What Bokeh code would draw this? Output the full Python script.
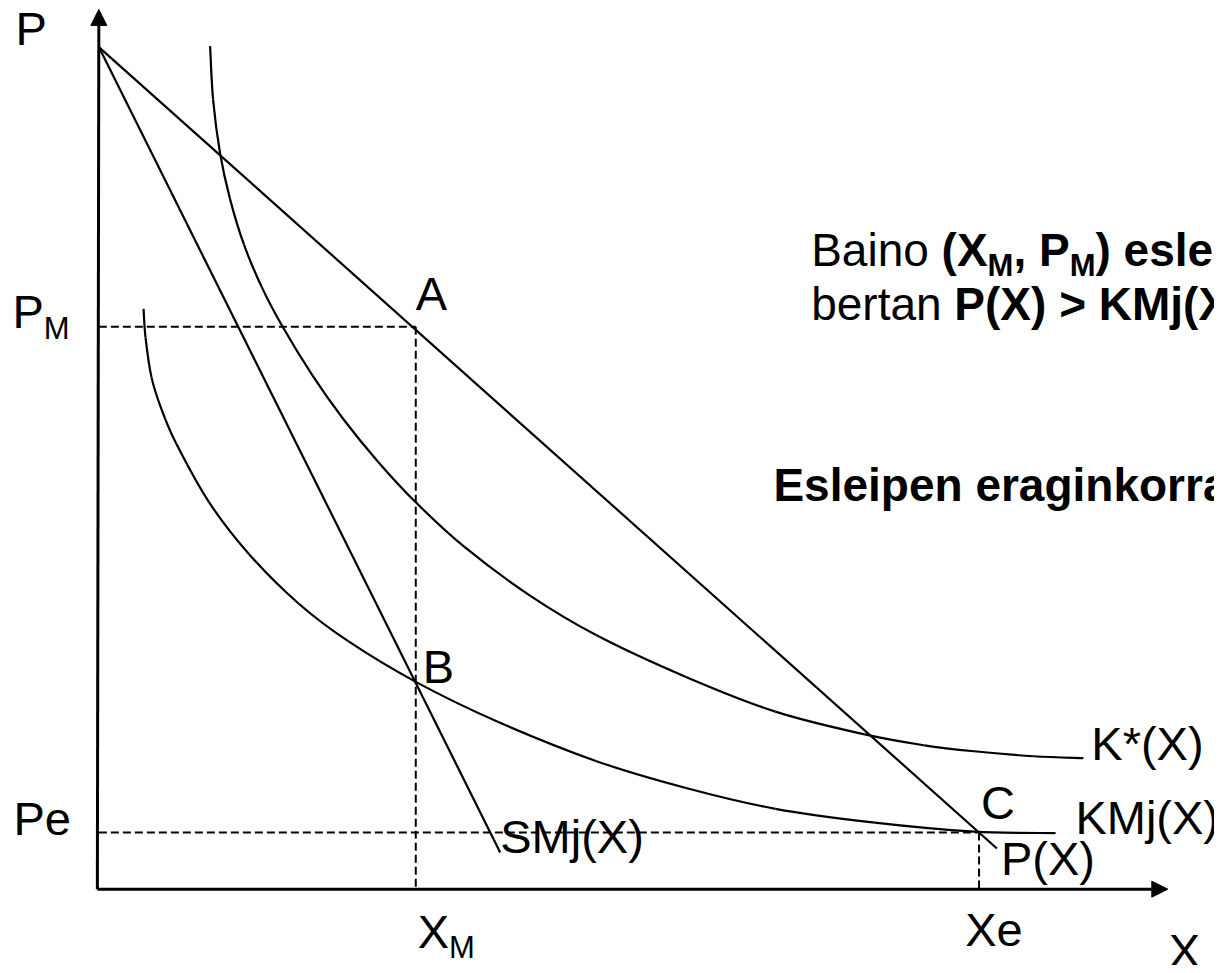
from bokeh.plotting import figure
from bokeh.models import Range1d, Arrow, NormalHead
from bokeh.embed import file_html
from bokeh.resources import INLINE
from bokeh.core.properties import value

# ---------------- data (chart units, origin at the axes corner) ----------------
X_M, P_M = 319, 567          # monopoly quantity / price (points A, B)
X_E, P_E = 886, 57           # efficient quantity / price (point C)

demand_x = [0, 904]          # P(X)
demand_y = [849, 41]
smj_x = [0, 404]             # SMj(X)
smj_y = [849, 37]

kstar_x = [112, 115, 122, 132, 146, 164, 185, 215, 246, 281, 319, 368, 434, 501, 591, 681, 771, 831, 881, 941, 991]
kstar_y = [850, 796, 742, 696, 650, 607, 567, 518, 474, 431, 390, 345, 296, 256, 214, 179, 156, 145, 139, 134, 132]

kmj_x = [45, 47, 53, 63, 78, 111, 151, 201, 251, 319, 401, 501, 591, 681, 781, 881, 963]
kmj_y = [585, 556, 516, 484, 449, 390, 338, 288, 250, 209, 169, 129, 102, 81, 67, 58, 56.5]

axis_x_end = 1076
axis_y_end = 887

# ---------------- figure ----------------
FONT = "Liberation Sans"
p = figure(width=1214, height=965, x_range=Range1d(-99, 1123), y_range=Range1d(-77, 896),
           output_backend="svg", toolbar_location=None, min_border=0,
           x_axis_type=None, y_axis_type=None)
p.grid.visible = False
p.outline_line_color = None
p.background_fill_color = "white"
p.border_fill_color = "white"

# axes with arrows
p.add_layout(Arrow(end=NormalHead(size=16, fill_color="black", line_color="black", line_width=1),
                   x_start=-1.5, y_start=0, x_end=0, y_end=axis_y_end, line_width=3, line_color="black"))
p.add_layout(Arrow(end=NormalHead(size=16, fill_color="black", line_color="black", line_width=1),
                   x_start=-1.5, y_start=0, x_end=axis_x_end, y_end=0, line_width=3, line_color="black"))

# dashed guides
dash = dict(line_color="black", line_width=2, line_dash="8 4")
p.line([0, X_M], [P_M, P_M], **dash)
p.line([X_M, X_M], [P_M, 0], **dash)
p.line([0, X_E], [P_E, P_E], **dash)
p.line([X_E, X_E], [P_E, 0], **dash)

# straight curves
cl = dict(line_color="black", line_width=2.2)
p.line(demand_x, demand_y, **cl)
p.line(smj_x, smj_y, **cl)


# smooth curves through the read points (Catmull-Rom rendered as cubic Bezier segments)
def smooth(xs, ys):
    n = len(xs)
    x0, y0, x1, y1, cx0, cy0, cx1, cy1 = [], [], [], [], [], [], [], []
    for i in range(n - 1):
        a = max(i - 1, 0)
        d = min(i + 2, n - 1)
        x0.append(xs[i]); y0.append(ys[i])
        x1.append(xs[i + 1]); y1.append(ys[i + 1])
        cx0.append(xs[i] + (xs[i + 1] - xs[a]) / 6.0)
        cy0.append(ys[i] + (ys[i + 1] - ys[a]) / 6.0)
        cx1.append(xs[i + 1] - (xs[d] - xs[i]) / 6.0)
        cy1.append(ys[i + 1] - (ys[d] - ys[i]) / 6.0)
    p.bezier(x0=x0, y0=y0, x1=x1, y1=y1, cx0=cx0, cy0=cy0, cx1=cx1, cy1=cy1, **cl)


smooth(kstar_x, kstar_y)
smooth(kmj_x, kmj_y)

# ---------------- text ----------------
REG = {' ': 278, '(': 333, ')': 333, ',': 278, '*': 389, '>': 584, 'A': 667, 'B': 667, 'C': 722,
       'E': 667, 'K': 667, 'M': 833, 'P': 667, 'S': 667, 'X': 667, 'a': 556, 'b': 556, 'd': 556,
       'e': 556, 'g': 556, 'i': 222, 'j': 222, 'k': 500, 'l': 222, 'n': 556, 'o': 556, 'p': 556,
       'r': 333, 's': 500, 't': 278}
BOLD = {' ': 278, '(': 333, ')': 333, ',': 278, '*': 389, '>': 584, 'E': 667, 'K': 722, 'M': 833,
        'P': 667, 'X': 667, 'a': 556, 'b': 611, 'd': 611, 'e': 556, 'g': 611, 'i': 278, 'j': 278,
        'k': 556, 'l': 278, 'n': 611, 'o': 611, 'p': 611, 'r': 389, 's': 556, 't': 333}

XS = 1214 / 1222.0  # screen px per chart unit (x)


def tw(t, size, bold):
    tab = BOLD if bold else REG
    return sum(tab.get(c, 556) for c in t) * size / 1000.0 / XS


def txt(x, base, t, size=47, bold=False):
    # 'base' is the wanted baseline; the renderer centres the glyphs on y, so shift by half a cap height
    p.text(x=[x], y=[base + 0.355 * size], text=[t], text_font=value(FONT), text_font_size=f"{size}px",
           text_font_style="bold" if bold else "normal", text_baseline="alphabetic",
           text_align="left", text_color="black")


def rich(x0, base, parts):
    x = x0
    for t, size, bold, dy in parts:
        txt(x, base + dy, t, size, bold)
        x += tw(t, size, bold)


L = 47   # label size
S = 31   # subscript size

txt(-84, 851, "P", L)
rich(-87, P_M - 1, [("P", L, False, 0), ("M", S, False, -12)])
txt(-86, P_E - 2, "Pe", L)
rich(X_M + 2, -59, [("X", L, False, 0), ("M", S, False, -11)])
txt(X_E - 14, -57, "Xe", L)
txt(1077, -79, "X", L)

txt(X_M, P_M + 17, "A", L)
txt(X_M + 7, 208, "B", L)
txt(X_E + 2, P_E + 14, "C", L)

txt(smj_x[-1], smj_y[-1] - 1, "SMj(X)", L)
txt(demand_x[-1] + 4, 14, "P(X)", L)
txt(983, 56, "KMj(X)", L)
txt(999, 130, "K*(X)", L)

T = 46
rich(717, 628, [("Baino ", T, False, 0), ("(X", T, True, 0), ("M", S, True, -10),
                (", P", T, True, 0), ("M", S, True, -10), (") esleipen eraginkorra da", T, True, 0)])
rich(717, 574, [("bertan ", T, False, 0), ("P(X) > KMj(X)", T, True, 0)])
txt(679, 391, "Esleipen eraginkorra", T, True)

open("out.html", "w").write(file_html(p, INLINE))
